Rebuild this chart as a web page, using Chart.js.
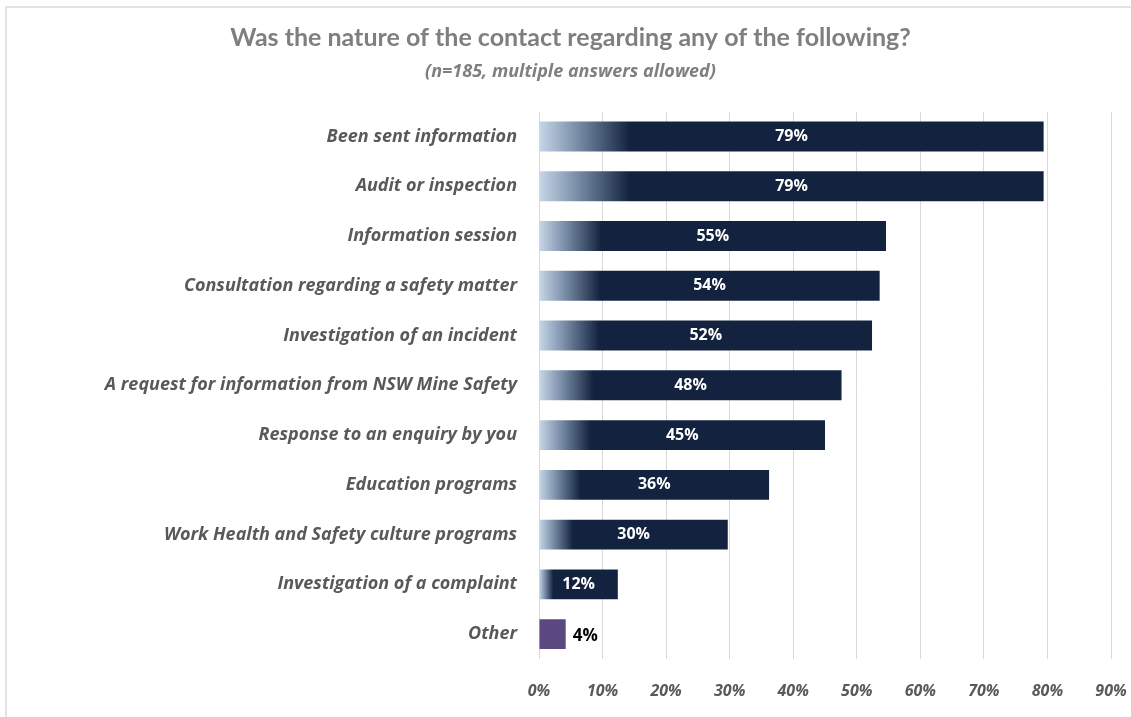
<!DOCTYPE html>
<html>
<head>
<meta charset="utf-8">
<script src="https://cdn.jsdelivr.net/npm/chart.js@4.4.1/dist/chart.umd.min.js"></script>
<style>
  html, body { margin: 0; padding: 0; background: #fff; }
  #wrap { position: absolute; left: 0; top: 0; width: 1131px; height: 717px; }
  #frame { position: absolute; left: 5px; top: 6px; right: -2px; bottom: -2px; border-left: 2px solid #e3e3e3; border-top: 2px solid #e3e3e3; pointer-events: none; }
</style>
</head>
<body>
<div id="wrap">
  <canvas id="chart" width="1131" height="717"></canvas>
  <div id="frame"></div>
</div>
<script>
// Data
const categories = [
  'Been sent information',
  'Audit or inspection',
  'Information session',
  'Consultation regarding a safety matter',
  'Investigation of an incident',
  'A request for information from NSW Mine Safety',
  'Response to an enquiry by you',
  'Education programs',
  'Work Health and Safety culture programs',
  'Investigation of a complaint',
  'Other'
];
const values = [79.4, 79.4, 54.6, 53.6, 52.4, 47.6, 45.0, 36.2, 29.7, 12.4, 4.2];
const xTicks = [0, 10, 20, 30, 40, 50, 60, 70, 80, 90];

const FONT = '"Open Sans", Lato, sans-serif';
const navy = '#13233f';
const paleBlue = '#c8d7e8';
const purple = '#5c4880';

// Each bar fades in from pale blue to navy over its first part
function barColor(ctx) {
  if (ctx.type !== 'data') return navy;
  if (ctx.dataIndex === categories.length - 1) return purple;
  const chart = ctx.chart;
  const xs = chart.scales.x;
  if (!chart.chartArea || !xs) return navy;
  const x0 = xs.getPixelForValue(0);
  const x1 = xs.getPixelForValue(values[ctx.dataIndex]);
  const g = chart.ctx.createLinearGradient(x0, 0, x1, 0);
  g.addColorStop(0, paleBlue);
  g.addColorStop(0.07, '#7f93ad');
  g.addColorStop(0.18, navy);
  g.addColorStop(1, navy);
  return g;
}

// Percent labels on the bars
const barLabels = {
  id: 'barLabels',
  afterDatasetsDraw(chart) {
    const ctx = chart.ctx;
    const meta = chart.getDatasetMeta(0);
    ctx.save();
    ctx.textBaseline = 'middle';
    meta.data.forEach((bar, i) => {
      const txt = Math.round(values[i]) + '%';
      if (i === categories.length - 1) {
        ctx.font = 'bold 17px ' + FONT;
        ctx.fillStyle = '#000';
        ctx.textAlign = 'left';
        ctx.fillText(txt, bar.x + 7, bar.y + 2);
      } else {
        ctx.font = 'bold 16px ' + FONT;
        ctx.fillStyle = '#fff';
        ctx.textAlign = 'center';
        ctx.fillText(txt, (bar.x + bar.base) / 2, bar.y);
      }
    });
    ctx.restore();
  }
};

new Chart(document.getElementById('chart'), {
  type: 'bar',
  data: {
    labels: categories,
    datasets: [{
      data: values,
      backgroundColor: barColor,
      borderWidth: 0,
      barPercentage: 0.6,
      categoryPercentage: 1.0
    }]
  },
  options: {
    indexAxis: 'y',
    responsive: false,
    animation: false,
    layout: { padding: { left: 30, right: 20, top: 0, bottom: 0 } },
    plugins: {
      legend: { display: false },
      tooltip: { enabled: false },
      title: {
        display: true,
        text: 'Was the nature of the contact regarding any of the following?',
        color: '#7f7f7f',
        font: { family: 'Lato, "Open Sans", sans-serif', size: 25, weight: 'bold' },
        padding: { top: 23, bottom: 0 }
      },
      subtitle: {
        display: true,
        text: '(n=185, multiple answers allowed)',
        color: '#7f7f7f',
        font: { family: FONT, size: 18, weight: 'bold', style: 'italic' },
        padding: { top: 8, bottom: 29 }
      }
    },
    scales: {
      x: {
        min: 0,
        max: 90,
        afterBuildTicks(axis) { axis.ticks = xTicks.map(v => ({ value: v })); },
        afterFit(axis) {
          axis.height = 58;
          axis.paddingLeft = 0;
          axis.paddingRight = 0;
        },
        grid: { color: '#d9d9d9', drawTicks: false },
        border: { display: false },
        ticks: {
          color: '#595959',
          padding: 23,
          maxRotation: 0,
          font: { family: FONT, size: 16, weight: 'bold', style: 'italic' },
          callback: v => v + '%'
        }
      },
      y: {
        afterFit(axis) { axis.width = 509; },
        grid: { display: false },
        border: { display: false },
        ticks: {
          color: '#595959',
          padding: 14,
          font: { family: FONT, size: 18, weight: 'bold', style: 'italic' }
        }
      }
    }
  },
  plugins: [barLabels]
});
</script>
</body>
</html>
